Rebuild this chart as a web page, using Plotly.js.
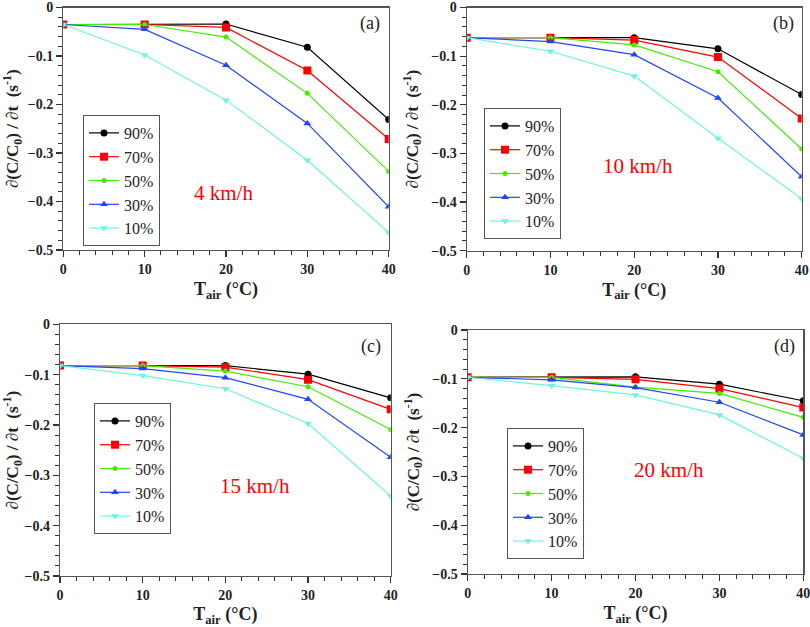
<!DOCTYPE html>
<html>
<head>
<meta charset="utf-8">
<script src="https://cdn.plot.ly/plotly-3.0.1.min.js"></script>
<style>html,body{margin:0;padding:0;background:#fff;}#chart{width:810px;height:627px;}</style>
</head>
<body>
<div id="chart"></div>
<script>
// ---------------- data ----------------
const tair = [0, 10, 20, 30, 40];
const rhLabels = ['90%', '70%', '50%', '30%', '10%'];
const speedLabels = ['4 km/h', '10 km/h', '15 km/h', '20 km/h'];
const panelLabels = ['(a)', '(b)', '(c)', '(d)'];

// (a) 4 km/h
const a_rh90 = [-0.035, -0.035, -0.034, -0.082, -0.231];
const a_rh70 = [-0.035, -0.035, -0.041, -0.130, -0.271];
const a_rh50 = [-0.035, -0.035, -0.061, -0.177, -0.338];
const a_rh30 = [-0.035, -0.045, -0.119, -0.239, -0.411];
const a_rh10 = [-0.035, -0.098, -0.191, -0.315, -0.464];
// (b) 10 km/h
const b_rh90 = [-0.062, -0.062, -0.062, -0.085, -0.179];
const b_rh70 = [-0.062, -0.062, -0.067, -0.102, -0.228];
const b_rh50 = [-0.062, -0.062, -0.077, -0.132, -0.291];
const b_rh30 = [-0.062, -0.070, -0.097, -0.186, -0.348];
const b_rh10 = [-0.062, -0.090, -0.141, -0.269, -0.393];
// (c) 15 km/h
const c_rh90 = [-0.082, -0.082, -0.082, -0.099, -0.146];
const c_rh70 = [-0.082, -0.082, -0.085, -0.110, -0.169];
const c_rh50 = [-0.082, -0.082, -0.093, -0.124, -0.209];
const c_rh30 = [-0.082, -0.088, -0.106, -0.149, -0.264];
const c_rh10 = [-0.082, -0.102, -0.128, -0.197, -0.341];
// (d) 20 km/h
const d_rh90 = [-0.097, -0.097, -0.096, -0.111, -0.145];
const d_rh70 = [-0.097, -0.097, -0.101, -0.120, -0.159];
const d_rh50 = [-0.097, -0.097, -0.117, -0.130, -0.179];
const d_rh30 = [-0.097, -0.102, -0.118, -0.148, -0.215];
const d_rh10 = [-0.097, -0.114, -0.133, -0.174, -0.263];

const panels = [
  [a_rh90, a_rh70, a_rh50, a_rh30, a_rh10],
  [b_rh90, b_rh70, b_rh50, b_rh30, b_rh10],
  [c_rh90, c_rh70, c_rh50, c_rh30, c_rh10],
  [d_rh90, d_rh70, d_rh50, d_rh30, d_rh10]
];

// ---------------- styles ----------------
const W = 810, H = 627;
const colors = ['#000000', '#ff0000', '#44ee00', '#2244ff', '#6ff5dd'];
const symbols = ['circle', 'square', 'circle', 'triangle-up', 'triangle-down'];
const msizes = [7, 8, 5, 7, 7];
const serif = '"Liberation Serif", "Times New Roman", serif';

// plot areas in pixels [x0, x1, yTop, yBottom]
const boxes = [
  [63.3, 388.7, 7.5, 250],
  [466.7, 801.7, 7.5, 250.7],
  [60, 390.7, 324.3, 576],
  [467.7, 803.3, 330, 574]
];
const legendPos = [[83, 115], [484, 108], [94, 403], [507, 428]];
const speedPos = [[223, 193], [638, 166], [255, 486], [669, 470]];
const letterPos = [[370, 24], [783, 24], [371, 346], [784, 346]];

const traces = [];
const layout = {
  width: W, height: H,
  margin: {l: 0, r: 0, t: 0, b: 0},
  paper_bgcolor: '#fff', plot_bgcolor: '#fff',
  showlegend: true,
  annotations: [],
  font: {family: serif, color: '#000'}
};

panels.forEach((series, p) => {
  const sfx = p === 0 ? '' : String(p + 1);
  const legName = p === 0 ? 'legend' : 'legend' + (p + 1);
  series.forEach((vals, i) => {
    traces.push({
      x: tair, y: vals, type: 'scatter', mode: 'lines+markers',
      name: rhLabels[i],
      xaxis: 'x' + sfx, yaxis: 'y' + sfx,
      legend: legName,
      line: {color: colors[i], width: 1.2},
      marker: {color: colors[i], symbol: symbols[i], size: msizes[i]}
    });
  });
  const b = boxes[p];
  const axCommon = {
    showline: true, mirror: true, linecolor: '#555', linewidth: 1.2,
    showgrid: false, zeroline: false,
    ticks: 'outside', ticklen: 6, tickcolor: '#333', tickwidth: 1.2,
    tickfont: {family: serif, size: 14, weight: 'bold', color: '#222'},
    ticklabeloverflow: 'allow',
    automargin: false, fixedrange: true
  };
  layout['xaxis' + sfx] = Object.assign({}, axCommon, {
    domain: [b[0] / W, b[1] / W],
    anchor: 'y' + sfx,
    range: [0, 40], dtick: 10, tick0: 0,
    minor: {dtick: 2, ticks: 'outside', ticklen: 4, tickcolor: '#333', tickwidth: 1},
    title: {text: 'T<sub>air</sub> (°C)', font: {family: serif, size: 18, weight: 'bold', color: '#222'}, standoff: 6}
  });
  layout['yaxis' + sfx] = Object.assign({}, axCommon, {
    domain: [1 - b[3] / H, 1 - b[2] / H],
    anchor: 'x' + sfx,
    range: [-0.5, 0], dtick: 0.1, tick0: 0,
    minor: {dtick: 0.02, ticks: 'outside', ticklen: 4, tickcolor: '#333', tickwidth: 1},
    title: {text: '∂(C/C<sub>0</sub>) / ∂t  (s<sup>-1</sup>)', font: {family: serif, size: 17, weight: 'bold', color: '#222'}, standoff: 8}
  });
  const lp = legendPos[p];
  layout[legName] = {
    x: lp[0] / W, y: 1 - lp[1] / H, xanchor: 'left', yanchor: 'top',
    bordercolor: '#555', borderwidth: 1, bgcolor: '#fff',
    font: {family: serif, size: 16, color: '#222'},
    tracegroupgap: 0, itemwidth: 30
  };
  const sp = speedPos[p];
  layout.annotations.push({
    xref: 'paper', yref: 'paper', x: sp[0] / W, y: 1 - sp[1] / H,
    xanchor: 'center', yanchor: 'middle', showarrow: false,
    text: speedLabels[p], font: {family: serif, size: 21, color: '#ff0000'}
  });
  const lt = letterPos[p];
  layout.annotations.push({
    xref: 'paper', yref: 'paper', x: lt[0] / W, y: 1 - lt[1] / H,
    xanchor: 'center', yanchor: 'middle', showarrow: false,
    text: panelLabels[p], font: {family: serif, size: 18, color: '#222'}
  });
});

Plotly.newPlot('chart', traces, layout, {displayModeBar: false, staticPlot: true});
</script>
</body>
</html>
